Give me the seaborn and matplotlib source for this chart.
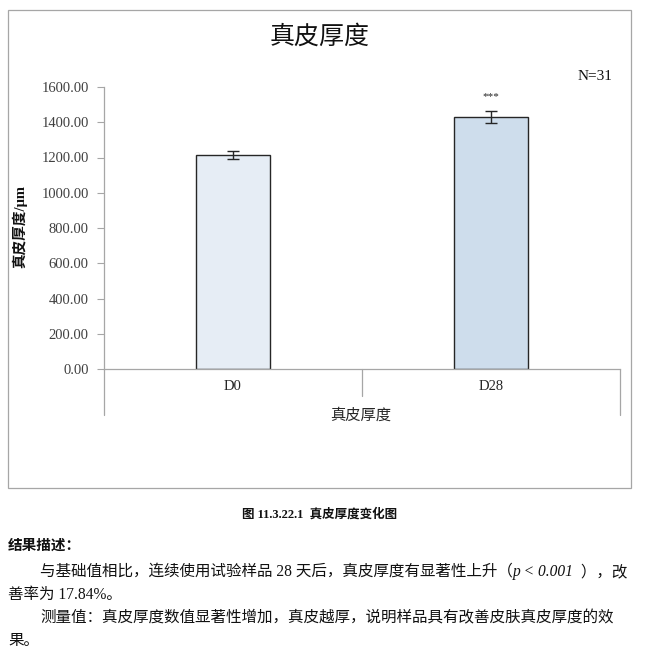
import matplotlib
matplotlib.use("Agg")
import matplotlib.pyplot as plt
import matplotlib.patches as mpatches
import matplotlib.transforms as mtransforms
import seaborn as sns
import pandas as pd

# ---- data ----
categories = ["D0", "D28"]
means = [1214, 1430]
errors = [22, 34]
yticks = [0, 200, 400, 600, 800, 1000, 1200, 1400, 1600]
bar_colors = ["#E3EDF8", "#C9DDF1"]

title = "真皮厚度"
ylabel = "真皮厚度/μm"
xlabel = "真皮厚度"
n_label = "N=31"
sig_label = "***"
caption = "图 11.3.22.1  真皮厚度变化图"
heading = "结果描述："
# each line: list of (text, italic)
para_lines = [
    [("与基础值相比，连续使用试验样品 28 天后，真皮厚度有显著性上升（", False),
     ("p < 0.001", True), (" ），改", False)],
    [("善率为 17.84%。", False)],
    [("测量值：真皮厚度数值显著性增加，真皮越厚，说明样品具有改善皮肤真皮厚度的效", False)],
    [("果。", False)],
]

sns.set_theme(style="white")
plt.rcParams["font.family"] = ["Liberation Serif", "Noto Sans CJK SC", "DejaVu Sans"]

W, H = 646, 659
fig = plt.figure(figsize=(W / 100, H / 100), dpi=100)
fig.patch.set_facecolor("white")


def fx(px):
    return px / W


def fy(py):
    return 1 - py / H


# chart frame
fig.patches.append(mpatches.Rectangle((fx(8), fy(488)), fx(631) - fx(8), fy(10) - fy(488),
                                      transform=fig.transFigure, fill=False,
                                      edgecolor="#A6A6A6", linewidth=0.9))

ax = fig.add_axes([fx(104), fy(369), fx(620) - fx(104), fy(87) - fy(369)])
df = pd.DataFrame({"cat": categories, "val": means})
sns.barplot(data=df, x="cat", y="val", hue="cat", palette=bar_colors, order=categories,
            errorbar=None, width=0.29, edgecolor="#262626", linewidth=1.0,
            legend=False, ax=ax)
ax.errorbar(x=list(range(len(categories))), y=means, yerr=errors, fmt="none",
            ecolor="#262626", elinewidth=1.0, capsize=4, capthick=1.0)

ax.set_xlim(-0.5, len(categories) - 0.5)
ax.set_ylim(0, 1600)
ax.set_yticks(yticks)
ax.set_yticklabels([f"{v:.2f}" for v in yticks], fontsize=10.5, color="#404040",
                   family="Liberation Serif")
ax.tick_params(axis="y", which="both", left=True, length=5, width=0.8, color="#A6A6A6", pad=6)
ax.tick_params(axis="x", length=0, pad=8)
ax.set_xticks(range(len(categories)))
ax.set_xticklabels(categories, fontsize=10.5, color="#262626", family="Liberation Serif")
ax.set_xlabel("")
ax.set_ylabel("")
for s in ["top", "right"]:
    ax.spines[s].set_visible(False)
for s in ["left", "bottom"]:
    ax.spines[s].set_color("#A6A6A6")
    ax.spines[s].set_linewidth(0.9)

# category boundary lines below x axis
trans = mtransforms.blended_transform_factory(ax.transData, fig.transFigure)
bounds = [i - 0.5 for i in range(len(categories) + 1)]
for i, b in enumerate(bounds):
    bottom = 415 if i in (0, len(bounds) - 1) else 396
    ax.plot([b, b], [fy(369), fy(bottom)], transform=trans, color="#A6A6A6",
            linewidth=0.9, clip_on=False)

fig.text(fx(361), fy(415), xlabel, ha="center", va="center", fontsize=11,
         family=["Noto Sans CJK SC"], color="#262626")

# significance marker
ax.text(1, means[1] + errors[1] + 55, sig_label, ha="center", va="bottom", fontsize=8,
        color="#262626", family="Liberation Serif")

fig.text(fx(320), fy(37), title, ha="center", va="center", fontsize=18,
         family=["Noto Sans CJK SC"], color="#111111")
fig.text(fx(612), fy(77), n_label, ha="right", va="center", fontsize=11,
         family="Liberation Serif", color="#111111")
fig.text(fx(20), fy(226), ylabel, ha="center", va="center", rotation=90, fontsize=10.5,
         fontweight="bold", family=["Liberation Serif", "Noto Sans CJK SC"], color="#111111")

# caption and description
fig.text(fx(320), fy(514), caption, ha="center", va="center", fontsize=9, fontweight="bold",
         family=["Liberation Serif", "Noto Sans CJK SC"], color="#111111")
fig.text(fx(8), fy(545), heading, ha="left", va="center", fontsize=10.5, fontweight="bold",
         family=["Noto Sans CJK SC"], color="#111111")

renderer = fig.canvas.get_renderer()
line_y = [572, 595, 618, 641]
line_x = [40, 8, 40, 8]
for segs, x0, y in zip(para_lines, line_x, line_y):
    x = x0
    for txt, italic in segs:
        t = fig.text(fx(x), fy(y), txt, ha="left", va="center", fontsize=11.2,
                     style="italic" if italic else "normal",
                     family=["Liberation Serif", "Noto Sans CJK SC"], color="#111111")
        x += t.get_window_extent(renderer).width + (3 if italic else 0)

fig.savefig("out.png", dpi=100, facecolor="white")
